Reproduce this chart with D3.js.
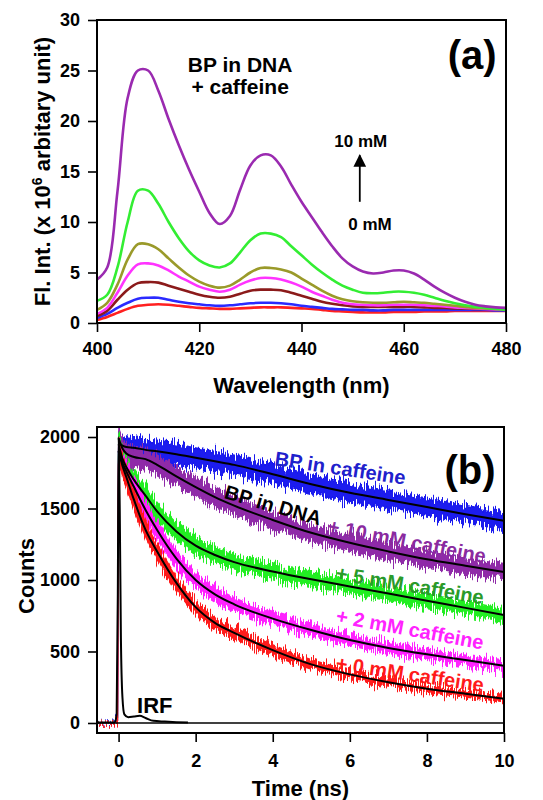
<!DOCTYPE html>
<html>
<head>
<meta charset="utf-8">
<script src="https://cdn.jsdelivr.net/npm/d3@7"></script>
<style>
  body { margin: 0; background: #fff; }
  svg text { font-family: "Liberation Sans", Arial, sans-serif; font-weight: bold; }
</style>
</head>
<body>
<div id="chart"></div>
<script>
// ---- Panel (a): steady state emission, BP in DNA + caffeine ----
const wavelengths = [400, 402, 404, 406, 408, 410, 412, 414, 416, 418, 420, 422, 424, 426, 428, 430, 432, 434, 436, 438, 440,
                     442, 444, 446, 448, 450, 452, 454, 456, 458, 460, 462, 464, 466, 468, 470, 472, 474, 476, 478, 480];
const flRed = [0.3, 0.6, 1.0, 1.4, 1.7, 1.8, 1.85, 1.8, 1.7, 1.6, 1.5, 1.45, 1.4, 1.4, 1.45, 1.5, 1.55, 1.55, 1.55, 1.5, 1.45,
               1.4, 1.3, 1.2, 1.15, 1.1, 1.05, 1.05, 1.05, 1.1, 1.1, 1.1, 1.15, 1.15, 1.15, 1.2, 1.2, 1.2, 1.2, 1.2, 1.2];
const flBlue = [0.5, 0.9, 1.5, 2.0, 2.4, 2.5, 2.5, 2.3, 2.1, 1.95, 1.85, 1.75, 1.7, 1.75, 1.85, 1.95, 2.0, 2.0, 1.95, 1.85, 1.7,
                1.6, 1.5, 1.4, 1.35, 1.3, 1.3, 1.25, 1.25, 1.3, 1.3, 1.3, 1.3, 1.3, 1.3, 1.3, 1.3, 1.3, 1.3, 1.25, 1.25];
const flDarkRed = [0.7, 1.2, 2.3, 3.3, 3.95, 4.05, 4.0, 3.7, 3.4, 3.1, 2.8, 2.6, 2.5, 2.6, 2.9, 3.2, 3.3, 3.3, 3.25, 3.0, 2.7,
                   2.4, 2.1, 1.9, 1.75, 1.65, 1.6, 1.6, 1.6, 1.6, 1.6, 1.6, 1.55, 1.5, 1.5, 1.45, 1.45, 1.4, 1.4, 1.35, 1.3];
const flMagenta = [0.9, 1.5, 3.0, 4.7, 5.8, 5.9, 5.7, 5.2, 4.6, 4.1, 3.6, 3.3, 3.1, 3.3, 3.8, 4.2, 4.45, 4.45, 4.3, 4.0, 3.6,
                   3.1, 2.7, 2.3, 2.0, 1.85, 1.8, 1.75, 1.75, 1.8, 1.8, 1.8, 1.75, 1.7, 1.65, 1.55, 1.5, 1.45, 1.4, 1.35, 1.3];
const flOlive = [1.3, 2.0, 3.8, 6.3, 7.8, 7.8, 7.3, 6.4, 5.5, 4.7, 4.1, 3.7, 3.5, 3.7, 4.3, 5.0, 5.45, 5.45, 5.3, 5.0, 4.4,
                 3.8, 3.2, 2.7, 2.35, 2.15, 2.05, 2.0, 2.0, 2.05, 2.1, 2.05, 2.0, 1.9, 1.8, 1.7, 1.6, 1.5, 1.45, 1.4, 1.35];
const flGreen = [2.2, 2.8, 5.5, 10.0, 13.1, 13.1, 11.8, 10.0, 8.4, 7.1, 6.2, 5.7, 5.5, 5.9, 7.0, 8.2, 8.85, 8.85, 8.5, 7.6, 6.7,
                 5.8, 5.0, 4.3, 3.7, 3.3, 3.0, 2.95, 3.0, 3.1, 3.1, 3.0, 2.8, 2.5, 2.2, 1.95, 1.75, 1.6, 1.5, 1.4, 1.3];
const flPurple = [4.3, 5.5, 13.0, 22.3, 25.0, 25.0, 23.0, 20.2, 17.6, 15.2, 13.0, 10.9, 9.8, 10.6, 13.2, 15.6, 16.6, 16.6, 15.5, 13.7, 12.0,
                  10.5, 9.0, 7.6, 6.4, 5.6, 5.1, 4.9, 5.0, 5.2, 5.2, 4.9, 4.3, 3.6, 3.0, 2.5, 2.1, 1.8, 1.65, 1.55, 1.5];
const spectra = [flRed, flBlue, flDarkRed, flMagenta, flOlive, flGreen, flPurple];
const spectraColors = ["#ff2020", "#2a2aff", "#8b1a1a", "#ff33ff", "#9a9a2a", "#33ee33", "#9a2ab0"];
const specTicksX = [400, 420, 440, 460, 480];
const specTicksY = [0, 5, 10, 15, 20, 25, 30];

// ---- Panel (b): fluorescence decays ----
const decayTimes = [-0.56, -0.1, -0.03, 0, 0.1, 0.2, 0.4, 0.7, 1, 1.5, 2, 2.5, 3, 4, 5, 6, 7, 8, 9, 10];
const decayCaffeine = [5, 15, 40, 1960, 1940, 1930, 1925, 1910, 1900, 1880, 1855, 1830, 1805, 1740, 1670, 1610, 1560, 1510, 1460, 1415];
const decayDNA10 = [3, 8, 20, 1990, 1920, 1885, 1860, 1845, 1805, 1725, 1650, 1580, 1520, 1420, 1330, 1260, 1200, 1145, 1100, 1055];
const decayDNA5 = [3, 8, 20, 1950, 1850, 1790, 1700, 1590, 1480, 1340, 1240, 1175, 1125, 1060, 1005, 955, 905, 855, 805, 755];
const decayDNA2 = [2, 6, 15, 1900, 1820, 1760, 1650, 1490, 1350, 1150, 1000, 900, 830, 730, 650, 580, 525, 480, 440, 400];
const decayDNA0 = [2, 6, 15, 1900, 1800, 1720, 1560, 1350, 1200, 980, 810, 700, 630, 510, 410, 340, 285, 240, 205, 170];
const decays = [decayCaffeine, decayDNA10, decayDNA5, decayDNA2, decayDNA0];
const decayColors = ["#1a1aee", "#8f2aa8", "#22ee22", "#ff22ff", "#ff1a1a"];
const irfTimes = [-0.56, -0.1, -0.05, -0.02, 0, 0.03, 0.06, 0.1, 0.15, 0.25, 0.4, 0.55, 0.7, 0.9, 1.2, 1.5, 1.8];
const irfCounts = [3, 3, 60, 900, 2000, 1500, 600, 180, 60, 40, 45, 50, 35, 15, 10, 6, 3];
const decayTicksX = [0, 2, 4, 6, 8, 10];
const decayTicksY = [0, 500, 1000, 1500, 2000];

const width = 543, height = 800;
const svg = d3.select("#chart").append("svg").attr("width", width).attr("height", height);
const defs = svg.append("defs");

// Noise filter - makes the photon counting bands look jagged
const noise = defs.append("filter").attr("id", "noisy")
    .attr("x", "-5%").attr("y", "-20%").attr("width", "110%").attr("height", "140%");
noise.append("feTurbulence").attr("type", "fractalNoise")
    .attr("baseFrequency", "0.9 0.02").attr("numOctaves", 2).attr("seed", 4).attr("result", "turb");
noise.append("feColorMatrix").attr("in", "turb").attr("type", "matrix")
    .attr("values", "0 0 0 0 0.5  0 1 0 0 0  0 0 0 0 0  0 0 0 0 1").attr("result", "disp");
noise.append("feDisplacementMap").attr("in", "SourceGraphic").attr("in2", "disp")
    .attr("scale", 22).attr("xChannelSelector", "R").attr("yChannelSelector", "G");

// Arrow head
defs.append("marker").attr("id", "arrow")
    .attr("viewBox", "0 0 10 10").attr("refX", 9).attr("refY", 5)
    .attr("markerWidth", 7).attr("markerHeight", 7).attr("orient", "auto")
    .append("path").attr("d", "M0,0L10,5L0,10Z").attr("fill", "#000");

// Shared axis styling
function styleAxis(axisG) {
    axisG.select(".domain").remove();
    axisG.selectAll(".tick line").attr("stroke", "#000").attr("stroke-width", 1.6);
    axisG.selectAll(".tick text").attr("font-size", 18).attr("fill", "#000");
}

function drawFrame(g, box, id) {
    g.append("clipPath").attr("id", id).append("rect")
        .attr("x", box.left).attr("y", box.top)
        .attr("width", box.right - box.left).attr("height", box.bottom - box.top);
    g.append("rect")
        .attr("x", box.left).attr("y", box.top)
        .attr("width", box.right - box.left).attr("height", box.bottom - box.top)
        .attr("fill", "none").attr("stroke", "#000").attr("stroke-width", 2);
}

// Panel (a)
function drawSpectra() {
    const box = {left: 97, right: 506, top: 20, bottom: 323};
    const x = d3.scaleLinear().domain([400, 480]).range([box.left, box.right]);
    const y = d3.scaleLinear().domain([0, 30]).range([box.bottom, box.top]);
    const g = svg.append("g").attr("class", "panel-a");

    g.append("g").attr("transform", `translate(0,${box.bottom})`)
        .call(d3.axisBottom(x).tickValues(specTicksX).tickSize(9).tickPadding(10).tickSizeOuter(0))
        .call(styleAxis);
    g.append("g").attr("transform", `translate(${box.left},0)`)
        .call(d3.axisLeft(y).tickValues(specTicksY).tickSize(9).tickPadding(8).tickSizeOuter(0))
        .call(styleAxis);

    // rounded peaks, like the smoothed spectra
    const line = d3.line()
        .x((d, i) => x(wavelengths[i]))
        .y(d => y(d))
        .curve(d3.curveCatmullRom.alpha(0.5));

    g.append("g").attr("clip-path", "url(#clipA)")
        .selectAll("path")
        .data(spectra)
        .enter()
        .append("path")
        .attr("d", line)
        .attr("fill", "none")
        .attr("stroke", (d, i) => spectraColors[i])
        .attr("stroke-width", 2.6)
        .attr("stroke-linejoin", "round");

    drawFrame(g, box, "clipA");

    // Annotations
    const title = g.append("text").attr("x", x(428)).attr("y", y(24.9))
        .attr("text-anchor", "middle").attr("font-size", 21);
    title.append("tspan").attr("x", x(428)).text("BP in DNA");
    title.append("tspan").attr("x", x(428)).attr("dy", 22).text("+ caffeine");

    g.append("text").attr("x", x(473.4)).attr("y", y(25.1))
        .attr("text-anchor", "middle").attr("font-size", 40).text("(a)");

    g.append("text").attr("x", x(451.6)).attr("y", y(17.4))
        .attr("text-anchor", "middle").attr("font-size", 17).text("10 mM");
    g.append("text").attr("x", x(453.4)).attr("y", y(9.2))
        .attr("text-anchor", "middle").attr("font-size", 17).text("0 mM");
    g.append("line")
        .attr("x1", x(451.4)).attr("x2", x(451.4))
        .attr("y1", y(12.0)).attr("y2", y(16.6))
        .attr("stroke", "#000").attr("stroke-width", 1.8)
        .attr("marker-end", "url(#arrow)");

    // Axis titles
    g.append("text").attr("x", (box.left + box.right) / 2).attr("y", 393)
        .attr("text-anchor", "middle").attr("font-size", 22).text("Wavelength (nm)");
    const yTitle = g.append("text")
        .attr("transform", `translate(50,${(box.top + box.bottom) / 2}) rotate(-90)`)
        .attr("text-anchor", "middle").attr("font-size", 22);
    yTitle.append("tspan").text("Fl. Int. (x 10");
    yTitle.append("tspan").attr("dy", -8).attr("font-size", 14).text("6");
    yTitle.append("tspan").attr("dy", 8).text(" arbitary unit)");
}

// Panel (b)
function drawDecays() {
    const box = {left: 97, right: 504, top: 427, bottom: 733};
    const x = d3.scaleLinear().domain([-0.56, 10]).range([box.left, box.right]);
    const y = d3.scaleLinear().domain([-70, 2070]).range([box.bottom, box.top]);
    const g = svg.append("g").attr("class", "panel-b");

    g.append("g").attr("transform", `translate(0,${box.bottom})`)
        .call(d3.axisBottom(x).tickValues(decayTicksX).tickSize(9).tickPadding(12).tickSizeOuter(0))
        .call(styleAxis);
    g.append("g").attr("transform", `translate(${box.left},0)`)
        .call(d3.axisLeft(y).tickValues(decayTicksY).tickFormat(d3.format("d"))
            .tickSize(9).tickPadding(8).tickSizeOuter(0))
        .call(styleAxis);

    // Noisy data as a band around each trace, width ~ sqrt(counts)
    const band = d3.area()
        .x((d, i) => x(decayTimes[i]))
        .y0(d => y(d - 1.6 * Math.sqrt(d)))
        .y1(d => y(d + 1.6 * Math.sqrt(d)))
        .curve(d3.curveMonotoneX);

    const dataG = g.append("g").attr("clip-path", "url(#clipB)");
    dataG.append("g").attr("filter", "url(#noisy)")
        .selectAll("path")
        .data(decays)
        .enter()
        .append("path")
        .attr("d", band)
        .attr("fill", (d, i) => decayColors[i])
        .attr("stroke", (d, i) => decayColors[i])
        .attr("stroke-width", 1.5);

    // Zero line
    dataG.append("line")
        .attr("x1", box.left).attr("x2", box.right)
        .attr("y1", y(0)).attr("y2", y(0))
        .attr("stroke", "#000").attr("stroke-width", 1.6);

    // Fits (black) from t = 0
    const fit = d3.line()
        .defined((d, i) => decayTimes[i] >= 0)
        .x((d, i) => x(decayTimes[i]))
        .y(d => y(d))
        .curve(d3.curveMonotoneX);
    dataG.append("g")
        .selectAll("path")
        .data(decays)
        .enter()
        .append("path")
        .attr("d", fit)
        .attr("fill", "none")
        .attr("stroke", "#000")
        .attr("stroke-width", 2);

    // IRF
    const irf = d3.line()
        .x((d, i) => x(irfTimes[i]))
        .y(d => y(d))
        .curve(d3.curveMonotoneX);
    dataG.append("path").datum(irfCounts)
        .attr("d", irf)
        .attr("fill", "none")
        .attr("stroke", "#000")
        .attr("stroke-width", 2);

    drawFrame(g, box, "clipB");

    // Trace labels, tilted along the decays
    const labels = [
        {text: "BP in caffeine", t: 5.75, c: 1783, rot: 8.5, color: "#2020cc"},
        {text: "BP in DNA", t: 4.01, c: 1524, rot: 16, color: "#000"},
        {text: "+ 10 mM caffeine", t: 7.48, c: 1273, rot: 11, color: "#8a2aa0"},
        {text: "+ 5 mM caffeine", t: 7.56, c: 965, rot: 9.5, color: "#2a9a2a"},
        {text: "+ 2 mM caffeine", t: 7.56, c: 657, rot: 10.5, color: "#ff22ff"},
        {text: "+ 0 mM caffeine", t: 7.56, c: 343, rot: 8.5, color: "#ff1a1a"}
    ];
    g.selectAll(".trace-label")
        .data(labels)
        .enter()
        .append("text")
        .attr("class", "trace-label")
        .attr("transform", d => `translate(${x(d.t)},${y(d.c)}) rotate(${d.rot})`)
        .attr("dy", "0.35em")
        .attr("text-anchor", "middle")
        .attr("font-size", 20)
        .attr("fill", d => d.color)
        .text(d => d.text);

    g.append("text").attr("x", x(0.48)).attr("y", y(70))
        .attr("font-size", 22).text("IRF");
    g.append("text").attr("x", x(9.12)).attr("y", y(1671))
        .attr("text-anchor", "middle").attr("font-size", 40).text("(b)");

    // Axis titles
    g.append("text").attr("x", (box.left + box.right) / 2).attr("y", 796)
        .attr("text-anchor", "middle").attr("font-size", 22).text("Time (ns)");
    g.append("text")
        .attr("transform", `translate(34,${(box.top + box.bottom) / 2 - 4}) rotate(-90)`)
        .attr("text-anchor", "middle").attr("font-size", 22).text("Counts");
}

drawSpectra();
drawDecays();
</script>
</body>
</html>
